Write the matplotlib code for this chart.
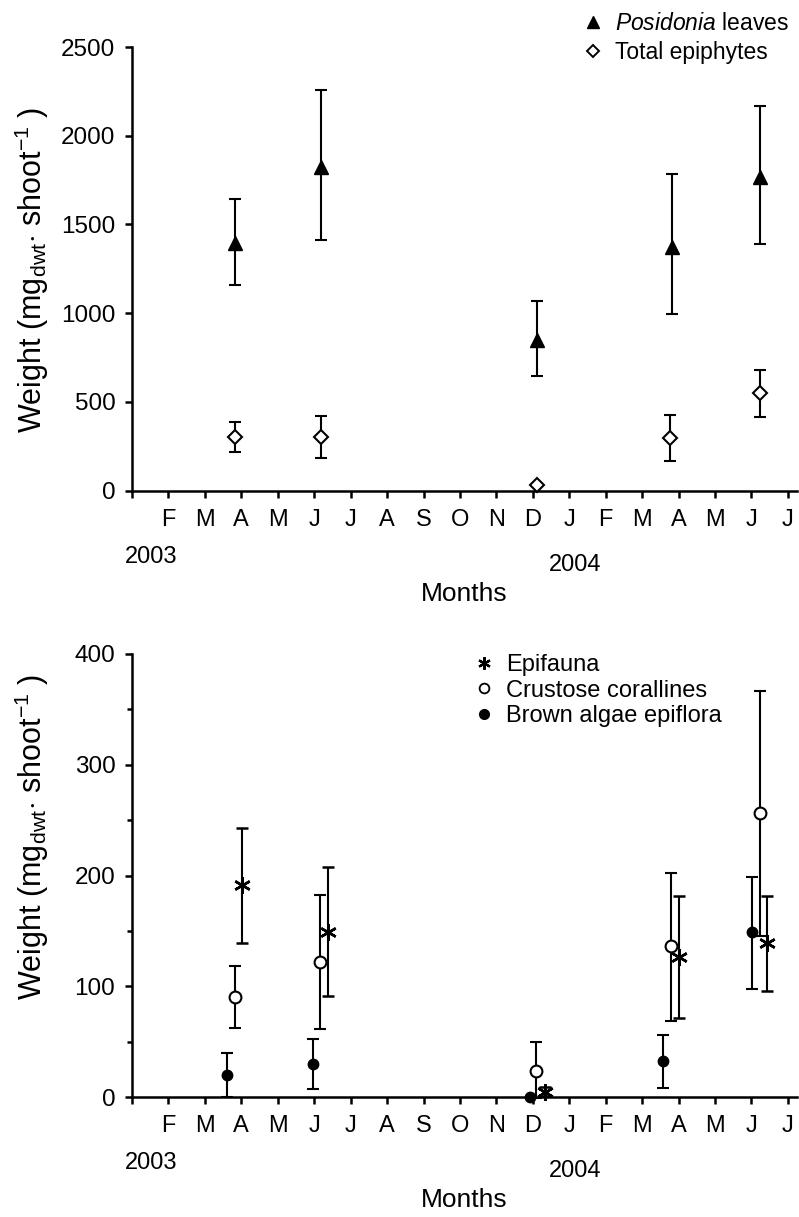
import numpy as np
import matplotlib

matplotlib.use("Agg", force=True)
import matplotlib.pyplot as plt
from matplotlib.lines import Line2D

plt.rcParams["font.family"] = ["Liberation Sans", "DejaVu Sans"]
plt.rcParams["mathtext.fontset"] = "custom"
plt.rcParams["mathtext.rm"] = "Liberation Sans"
plt.rcParams["mathtext.it"] = "Liberation Sans:italic"

# ---- data (x in months since Jan 2003) ----
month_labels = ["", "F", "M", "A", "M", "J", "J", "A", "S", "O", "N", "D",
                "J", "F", "M", "A", "M", "J", "J"]

pos_x = [2.84, 5.18, 11.12, 14.82, 17.24]
pos_mean = [1394, 1826, 849, 1375, 1769]
pos_lo = [1159, 1412, 648, 996, 1388]
pos_hi = [1644, 2258, 1069, 1783, 2167]

epi_x = [2.84, 5.18, 11.12, 14.76, 17.24]
epi_mean = [304, 304, 32, 295, 549]
epi_lo = [220, 183, np.nan, 167, 417]
epi_hi = [389, 423, np.nan, 425, 680]

fauna_x = [3.01, 5.38, 11.33, 15.01, 17.43]
fauna_mean = [191.6, 149.5, 5, 126.9, 139]
fauna_lo = [139.5, 91.7, 1, 71.9, 95.9]
fauna_hi = [243, 207.6, 9, 181.7, 181.7]

crust_x = [2.83, 5.16, 11.10, 14.78, 17.23]
crust_mean = [90.8, 122.4, 23.7, 136.5, 256.9]
crust_lo = [62.8, 61.4, -1, 68.9, 145.9]
crust_hi = [118.5, 182.6, 50.2, 202, 367]

brown_x = [2.62, 4.96, 10.92, 14.58, 17.02]
brown_mean = [20.1, 30, 0, 32.8, 148.9]
brown_lo = [0, 7.2, np.nan, 8.7, 97.5]
brown_hi = [39.7, 52.3, np.nan, 56, 199.1]

W, H = 799, 1217
LW = 1.8
TICK_FS = 17


def yerr(mean, lo, hi):
    m = np.asarray(mean, float)
    return [m - np.asarray(lo, float), np.asarray(hi, float) - m]


def ebar(ax, x, mean, lo, hi, **kw):
    c = ax.errorbar(x, mean, yerr=yerr(mean, lo, hi), ls="none", color="k",
                    ecolor="k", elinewidth=1.5, capsize=4.5, capthick=1.5,
                    zorder=3, **kw)
    for art in c.lines[1] + c.lines[2]:
        art.set_clip_on(False)
    c.lines[0].set_clip_on(False)
    c.lines[0].set_zorder(4)
    return c


def style_axis(ax, ymax, ystep):
    for s in ("top", "right"):
        ax.spines[s].set_visible(False)
    for s in ("left", "bottom"):
        ax.spines[s].set_linewidth(LW)
    ax.set_xlim(0, 18.25)
    ax.set_ylim(0, ymax)
    ax.set_xticks(range(len(month_labels)))
    ax.set_xticklabels(month_labels)
    ax.set_yticks(np.arange(0, ymax + 1, ystep))
    ax.tick_params(axis="x", direction="out", length=5, width=LW,
                   labelsize=TICK_FS, pad=8)
    ax.tick_params(axis="y", direction="out", length=5, width=LW,
                   labelsize=17.5, pad=7)


def ylab(ax, ycenter_px, top_px, bottom_px):
    frac = (bottom_px - ycenter_px) / (bottom_px - top_px)
    ax.set_ylabel(r"Weight (mg$_{\mathrm{dwt}}$$\cdot$ shoot$^{-1}$ )",
                  fontsize=22, va="center", ha="center")
    ax.yaxis.set_label_coords((32 - 132) / 665, frac)


def years(fig, axis_px):
    fig.text(151 / W, 1 - (axis_px + 66) / H, "2003", fontsize=17,
             ha="center", va="center")
    fig.text(575 / W, 1 - (axis_px + 74) / H, "2004", fontsize=17,
             ha="center", va="center")
    fig.text(464 / W, 1 - (axis_px + 103) / H, "Months", fontsize=19,
             ha="center", va="center")


fig = plt.figure(figsize=(W / 100, H / 100), dpi=100)

# ---- top panel ----
ax1 = fig.add_axes([132 / W, 1 - 490.7 / H, 665 / W, 443.7 / H])
style_axis(ax1, 2500, 500)
ebar(ax1, pos_x, pos_mean, pos_lo, pos_hi, marker="^", ms=10, mfc="k", mec="k")
ebar(ax1, epi_x, epi_mean, epi_lo, epi_hi, marker="D", ms=7.5, mfc="white",
     mec="k", mew=1.5)
ylab(ax1, 270, 47, 490.7)
years(fig, 490.7)

h1 = [Line2D([], [], ls="none", marker="^", ms=8, color="k"),
      Line2D([], [], ls="none", marker="D", ms=6.5, mfc="white", mec="k", mew=1.4)]
ax1.legend(h1, [r"$\it{Posidonia}$ leaves", "Total epiphytes"],
           loc="upper left", bbox_to_anchor=(584 / W, 1 - 12 / H),
           bbox_transform=fig.transFigure, frameon=False,
           fontsize=16.5, handlelength=0.8, handletextpad=0.55,
           labelspacing=0.28, borderpad=0, borderaxespad=0)

# ---- bottom panel ----
ax2 = fig.add_axes([132 / W, 1 - 1097.3 / H, 665 / W, 443.3 / H])
style_axis(ax2, 400, 100)
ax2.set_yticks(np.arange(50, 400, 100), minor=True)
ax2.tick_params(axis="y", which="minor", length=3.5, width=LW)
ebar(ax2, brown_x, brown_mean, brown_lo, brown_hi, marker="o", ms=7.5,
     mfc="k", mec="k")
ebar(ax2, crust_x, crust_mean, crust_lo, crust_hi, marker="o", ms=8.5,
     mfc="white", mec="k", mew=1.5)
ebar(ax2, fauna_x, fauna_mean, fauna_lo, fauna_hi, marker=(6, 2, 0), ms=12,
     mec="k", mew=1.8)
ylab(ax2, 837, 654, 1097.3)
years(fig, 1097.3)

h2 = [Line2D([], [], ls="none", marker=(6, 2, 0), ms=9, mec="k", mew=1.6),
      Line2D([], [], ls="none", marker="o", ms=7, mfc="white", mec="k", mew=1.3),
      Line2D([], [], ls="none", marker="o", ms=7, color="k")]
ax2.legend(h2, ["Epifauna", "Crustose corallines", "Brown algae epiflora"],
           loc="upper left", bbox_to_anchor=(475 / W, 1 - 654 / H),
           bbox_transform=fig.transFigure, frameon=False,
           fontsize=17, handlelength=0.8, handletextpad=0.5,
           labelspacing=0.15, borderpad=0, borderaxespad=0)

fig.savefig("out.png", dpi=100)
